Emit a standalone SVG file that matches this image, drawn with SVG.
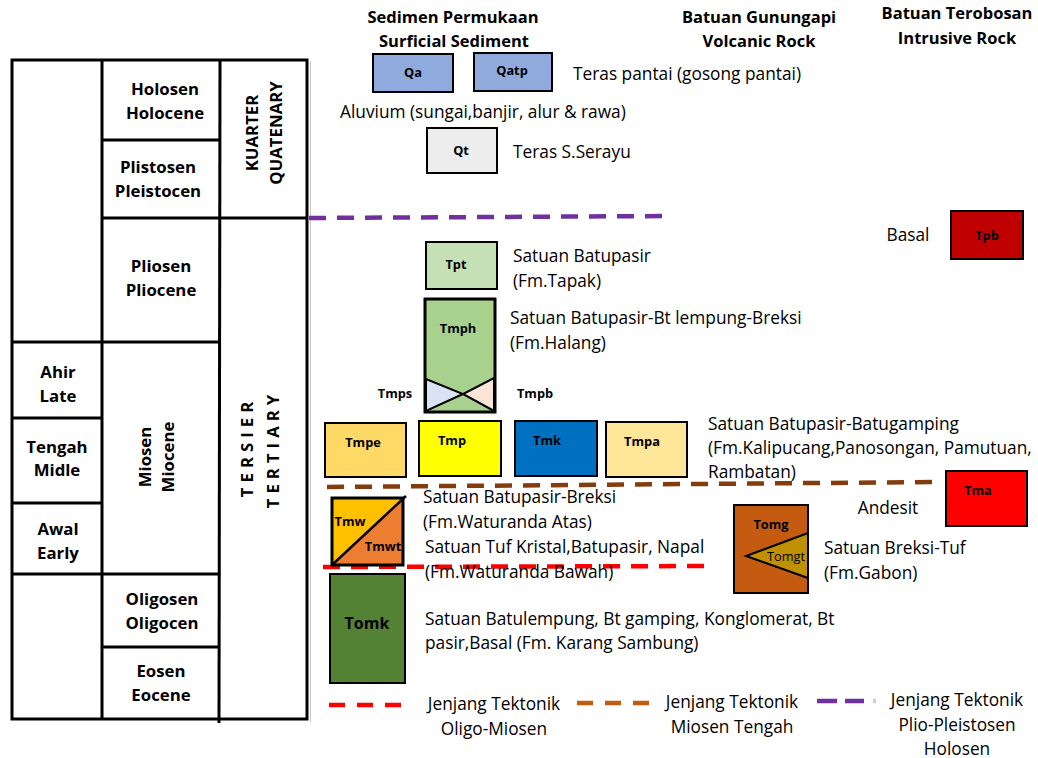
<svg xmlns="http://www.w3.org/2000/svg" width="1038" height="758" viewBox="0 0 1038 758">
  <style>
    text { font-family: "Open Sans", "Liberation Sans", sans-serif; fill: #000; }
    .tb { font-size: 16.8px; font-weight: bold; text-anchor: middle; }
    .hd { font-size: 16.5px; font-weight: bold; text-anchor: middle; }
    .ds { font-size: 17.3px; }
    .lb { font-size: 12.8px; font-weight: bold; text-anchor: middle; }
    .grid { stroke: #000; stroke-width: 3; fill: none; }
    .box { stroke: #000; stroke-width: 2; }
    .dash { fill: none; stroke-width: 4.5; stroke-dasharray: 17 11; }
  </style>

  <!-- time scale table -->
  <g id="timescale">
    <rect class="grid" x="12" y="60" width="295" height="659"/>
    <line x1="102" y1="60" x2="102" y2="719" class="grid"/>
    <line x1="220" y1="60" x2="219" y2="723" class="grid"/>
    <line x1="102" y1="140" x2="220" y2="140" class="grid"/>
    <line x1="102" y1="218" x2="307" y2="218" class="grid"/>
    <line x1="12" y1="342" x2="220" y2="342" class="grid"/>
    <line x1="12" y1="418" x2="102" y2="418" class="grid"/>
    <line x1="12" y1="503" x2="102" y2="503" class="grid"/>
    <line x1="12" y1="574" x2="220" y2="574" class="grid"/>
    <line x1="102" y1="647" x2="220" y2="647" class="grid"/>
    <line x1="310.5" y1="62" x2="310.5" y2="722" stroke="#c8c8c8" stroke-width="1"/>

    <text class="tb" x="165" y="95">Holosen</text>
    <text class="tb" x="165" y="119">Holocene</text>
    <text class="tb" x="158" y="173">Plistosen</text>
    <text class="tb" x="158" y="197">Pleistocen</text>
    <text class="tb" x="161" y="272">Pliosen</text>
    <text class="tb" x="161" y="296">Pliocene</text>
    <text class="tb" x="58" y="378">Ahir</text>
    <text class="tb" x="58" y="402">Late</text>
    <text class="tb" x="57" y="453">Tengah</text>
    <text class="tb" x="57" y="476">Midle</text>
    <text class="tb" x="58" y="535">Awal</text>
    <text class="tb" x="58" y="559">Early</text>
    <text class="tb" x="162" y="605">Oligosen</text>
    <text class="tb" x="162" y="629">Oligocen</text>
    <text class="tb" x="161" y="677">Eosen</text>
    <text class="tb" x="161" y="701">Eocene</text>

    <g transform="translate(145,457) rotate(-90)"><text class="tb" x="0" y="6">Miosen</text></g>
    <g transform="translate(168,457) rotate(-90)"><text class="tb" x="0" y="6">Miocene</text></g>
    <g transform="translate(252,133) rotate(-90)"><text class="tb" x="0" y="6">KUARTER</text></g>
    <g transform="translate(276,133) rotate(-90)"><text class="tb" x="0" y="6">QUATENARY</text></g>
    <g transform="translate(247,450) rotate(-90)"><text class="tb" x="3" y="6" letter-spacing="5">TERSIER</text></g>
    <g transform="translate(273,452) rotate(-90)"><text class="tb" x="3" y="6" letter-spacing="5">TERTIARY</text></g>
  </g>

  <!-- column headings -->
  <g id="headings">
    <text class="hd" x="453" y="23">Sedimen Permukaan</text>
    <text class="hd" x="454" y="47">Surficial Sediment</text>
    <text class="hd" x="759" y="23">Batuan Gunungapi</text>
    <text class="hd" x="759" y="47">Volcanic Rock</text>
    <text class="hd" x="957" y="19">Batuan Terobosan</text>
    <text class="hd" x="957" y="44">Intrusive Rock</text>
  </g>

  <!-- tectonic step boundaries -->
  <g id="connectors">
    <line class="dash" x1="309" y1="218" x2="668" y2="216" stroke="#7030a0"/>
    <line class="dash" x1="327" y1="487" x2="938" y2="482" stroke="#843c0c"/>
    <line class="dash" x1="323" y1="567" x2="713" y2="566" stroke="#ff0000"/>
  </g>

  <!-- surficial sediments -->
  <g id="Qa">
    <rect class="box" x="373" y="54" width="80" height="38" fill="#8faadc"/>
    <text class="lb" x="413" y="77">Qa</text>
  </g>
  <g id="Qatp">
    <rect class="box" x="474" y="53" width="78" height="38" fill="#8faadc"/>
    <text class="lb" x="512" y="75">Qatp</text>
  </g>
  <text class="ds" x="573" y="80">Teras pantai (gosong pantai)</text>
  <text class="ds" x="340" y="118">Aluvium (sungai,banjir, alur &amp; rawa)</text>
  <g id="Qt">
    <rect class="box" x="427" y="128" width="70" height="45" fill="#ededed"/>
    <text class="lb" x="461" y="155">Qt</text>
  </g>
  <text class="ds" x="513" y="158">Teras S.Serayu</text>

  <!-- Tapak / Halang -->
  <g id="Tpt">
    <rect class="box" x="426" y="242" width="71" height="47" fill="#c5e0b4"/>
    <text class="lb" x="456" y="269">Tpt</text>
  </g>
  <text class="ds" x="513" y="262">Satuan Batupasir</text>
  <text class="ds" x="513" y="287">(Fm.Tapak)</text>

  <g id="Tmph">
    <rect x="425" y="299" width="70" height="113" fill="#a9d18e"/>
    <polygon points="426,379 426,411 463,394" fill="#dae3f3" stroke="#000" stroke-width="2"/>
    <polygon points="494,378 494,411 463,394" fill="#fbe5d6" stroke="#000" stroke-width="2"/>
    <rect x="425" y="299" width="70" height="113" fill="none" stroke="#000" stroke-width="3"/>
    <text class="lb" x="458" y="333">Tmph</text>
    <text class="lb" x="395" y="398">Tmps</text>
    <text class="lb" x="535" y="398">Tmpb</text>
  </g>
  <text class="ds" x="510" y="324">Satuan Batupasir-Bt lempung-Breksi</text>
  <text class="ds" x="510" y="349">(Fm.Halang)</text>

  <!-- Kalipucang / Panosongan / Pamutuan / Rambatan -->
  <g id="Tmpe">
    <rect class="box" x="325" y="423" width="81" height="54" fill="#ffd966"/>
    <text class="lb" x="363" y="447">Tmpe</text>
  </g>
  <g id="Tmp">
    <rect class="box" x="419" y="421" width="82" height="55" fill="#ffff00"/>
    <text class="lb" x="452" y="445">Tmp</text>
  </g>
  <g id="Tmk">
    <rect class="box" x="515" y="421" width="82" height="55" fill="#0070c0"/>
    <text class="lb" x="547" y="445">Tmk</text>
  </g>
  <g id="Tmpa">
    <rect class="box" x="606" y="422" width="81" height="55" fill="#ffe699"/>
    <text class="lb" x="642" y="446">Tmpa</text>
  </g>
  <text class="ds" x="708" y="430">Satuan Batupasir-Batugamping</text>
  <text class="ds" x="708" y="454">(Fm.Kalipucang,Panosongan, Pamutuan,</text>
  <text class="ds" x="708" y="478">Rambatan)</text>

  <!-- Waturanda -->
  <g id="Tmw">
    <polygon points="332,498 403,498 332,565" fill="#ffc000"/>
    <polygon points="403,498 403,565 332,565" fill="#ed7d31"/>
    <rect x="332" y="498" width="71" height="67" fill="none" stroke="#000" stroke-width="3"/>
    <line x1="332" y1="565" x2="406" y2="496" stroke="#000" stroke-width="2.5"/>
    <text class="lb" x="350" y="526">Tmw</text>
    <text class="lb" x="383" y="551">Tmwt</text>
  </g>
  <text class="ds" x="423" y="503">Satuan Batupasir-Breksi</text>
  <text class="ds" x="423" y="528">(Fm.Waturanda Atas)</text>
  <text class="ds" x="425" y="553">Satuan Tuf Kristal,Batupasir, Napal</text>
  <text class="ds" x="425" y="578">(Fm.Waturanda Bawah)</text>

  <!-- Karang Sambung -->
  <g id="Tomk">
    <rect class="box" x="330" y="574" width="75" height="109" fill="#548235"/>
    <text class="lb" x="367" y="629" style="font-size:16px">Tomk</text>
  </g>
  <text class="ds" x="425" y="625">Satuan Batulempung, Bt gamping, Konglomerat, Bt</text>
  <text class="ds" x="425" y="649">pasir,Basal (Fm. Karang Sambung)</text>

  <!-- Gabon -->
  <g id="Tomg">
    <rect class="box" x="734" y="505" width="74" height="88" fill="#c55a11"/>
    <polygon points="808,533 808,578 746,556" fill="#bf9000" stroke="#000" stroke-width="2"/>
    <text class="lb" x="771" y="529">Tomg</text>
    <text x="786" y="561" font-size="12.8" text-anchor="middle">Tomgt</text>
  </g>
  <text class="ds" x="824" y="554">Satuan Breksi-Tuf</text>
  <text class="ds" x="824" y="579">(Fm.Gabon)</text>

  <!-- volcanic and intrusive rocks -->
  <g id="Tma">
    <rect class="box" x="946" y="471" width="81" height="55" fill="#ff0000"/>
    <text class="lb" x="978" y="495">Tma</text>
  </g>
  <text class="ds" x="888" y="514" text-anchor="middle">Andesit</text>
  <g id="Tpb">
    <rect class="box" x="951" y="211" width="72" height="48" fill="#c00000"/>
    <text class="lb" x="987" y="240">Tpb</text>
  </g>
  <text class="ds" x="908" y="241" text-anchor="middle">Basal</text>

  <!-- legend -->
  <g id="legend">
    <line x1="329" y1="705" x2="403" y2="705" stroke="#ff0000" stroke-width="4.5" stroke-dasharray="16 12"/>
    <text class="ds" x="494" y="710" text-anchor="middle">Jenjang Tektonik</text>
    <text class="ds" x="494" y="735" text-anchor="middle">Oligo-Miosen</text>
    <line x1="577" y1="703" x2="649" y2="703" stroke="#c55a11" stroke-width="4.5" stroke-dasharray="16 12"/>
    <text class="ds" x="732" y="708" text-anchor="middle">Jenjang Tektonik</text>
    <text class="ds" x="732" y="733" text-anchor="middle">Miosen Tengah</text>
    <line x1="817" y1="701" x2="864" y2="701" stroke="#7030a0" stroke-width="4.5" stroke-dasharray="20 8"/>
    <line x1="873" y1="701" x2="876" y2="701" stroke="#d9c6e6" stroke-width="4.5"/>
    <text class="ds" x="957" y="706" text-anchor="middle">Jenjang Tektonik</text>
    <text class="ds" x="957" y="731" text-anchor="middle">Plio-Pleistosen</text>
    <text class="ds" x="957" y="755" text-anchor="middle">Holosen</text>
  </g>
</svg>
